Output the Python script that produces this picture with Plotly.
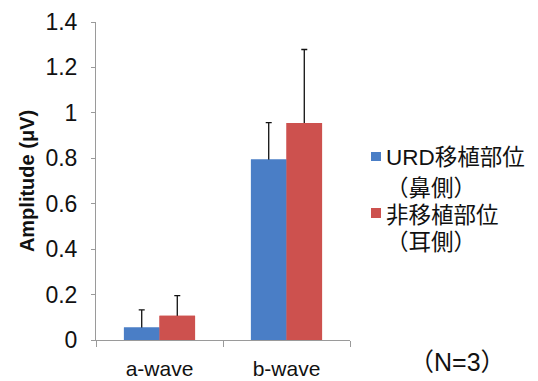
import plotly.graph_objects as go

categories = ["a-wave", "b-wave"]
series_names = ["URD移植部位", "非移植部位"]
series_sides = ["（鼻側）", "（耳側）"]
urd_values = [0.055, 0.795]
urd_errors = [0.078, 0.162]
non_values = [0.107, 0.955]
non_errors = [0.088, 0.324]
colors = ["#4A7EC6", "#CD514E"]

FONT = "Arial, 'Liberation Sans', 'Noto Sans CJK JP', sans-serif"

# plot-area geometry in pixels (for placing legend/notes in paper coords)
L, R, T, B, W, H = 96, 188, 22, 41, 538, 381
PW, PH = W - L - R, H - T - B


def px_x(px):
    return (px - L) / PW


def px_y(py):
    return (H - B - py) / PH


series = [
    (series_names[0], urd_values, urd_errors, colors[0], "g1"),
    (series_names[1], non_values, non_errors, colors[1], "g2"),
]

fig = go.Figure()
# bars carrying the (upper-only) error bars
for name, vals, errs, col, grp in series:
    fig.add_trace(go.Bar(
        x=categories, y=vals, name=name, marker_color=col, marker_line_width=0,
        offsetgroup=grp, showlegend=False,
        error_y=dict(type="data", array=errs, arrayminus=[0.02] * len(errs),
                     symmetric=False, color="#111111", thickness=1.3, width=3),
    ))
# same bars drawn again on top, hiding the lower end of the error bars
for name, vals, errs, col, grp in series:
    fig.add_trace(go.Bar(
        x=categories, y=vals, name=name, marker_color=col, marker_line_width=0,
        offsetgroup=grp, showlegend=False, hoverinfo="skip",
    ))

fig.update_layout(
    width=W, height=H,
    margin=dict(l=L, r=R, t=T, b=B),
    paper_bgcolor="white", plot_bgcolor="white",
    font=dict(family=FONT, color="#111111"),
    barmode="group", bargap=0.44, bargroupgap=0,
    showlegend=False,
)
fig.update_xaxes(
    showline=True, linecolor="#9a9a9a", linewidth=1, automargin=False,
    ticks="outside", tickson="boundaries", ticklen=6, tickcolor="#9a9a9a",
    tickfont=dict(size=21), showgrid=False, ticklabelstandoff=10,
)
fig.update_yaxes(
    range=[0, 1.4], dtick=0.2, showline=True, linecolor="#9a9a9a", linewidth=1,
    automargin=False,
    ticks="outside", ticklen=4, tickcolor="#9a9a9a", showgrid=False, zeroline=False,
    tickfont=dict(size=23), ticklabelstandoff=9,
    title=dict(text="<b>Amplitude (μV)</b>", font=dict(size=20), standoff=5),
)

# legend (manual, symbol aligned with first line)
sq = [(152, 161), (208, 218)]
lines = [(series_names[0], 157), (series_sides[0], 188),
         (series_names[1], 215), (series_sides[1], 242)]
for (top, bot), col in zip(sq, colors):
    fig.add_shape(type="rect", xref="paper", yref="paper",
                  x0=px_x(371), x1=px_x(381), y0=px_y(bot), y1=px_y(top),
                  fillcolor=col, line_width=0)
for txt, cy in lines:
    fig.add_annotation(text=txt, xref="paper", yref="paper", x=px_x(384), y=px_y(cy),
                       xanchor="left", yanchor="middle", showarrow=False,
                       font=dict(size=22.5, family=FONT))

fig.add_annotation(
    text="（N=3）", xref="paper", yref="paper", x=px_x(457), y=px_y(362),
    showarrow=False, font=dict(size=25, family=FONT), xanchor="center", yanchor="middle",
)
fig.write_html("out.html")
